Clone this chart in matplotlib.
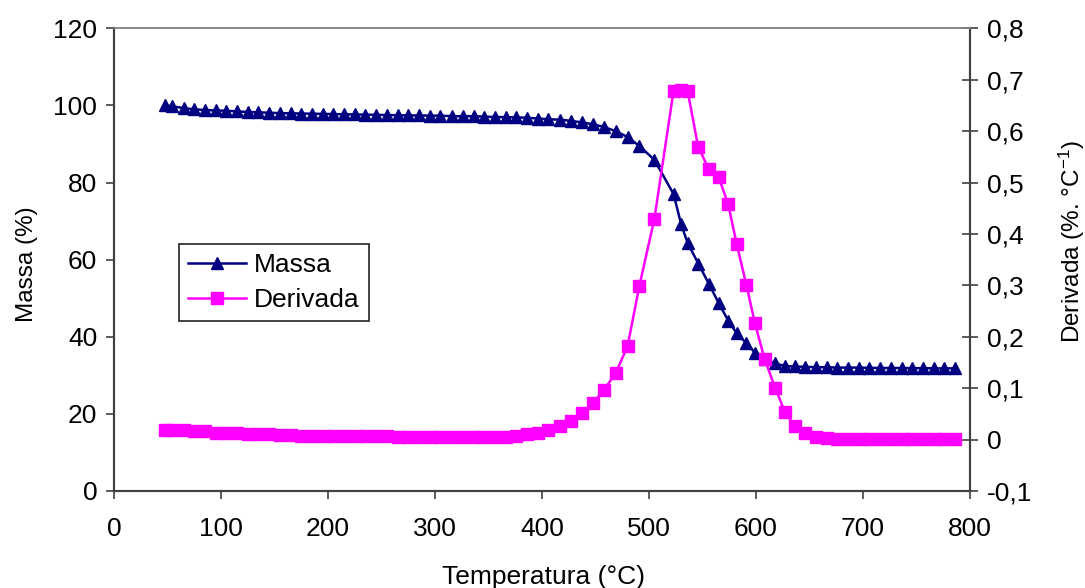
import matplotlib
matplotlib.use("Agg")
import matplotlib.pyplot as plt

plt.rcParams['font.family'] = ['Liberation Sans', 'DejaVu Sans']
plt.rcParams['mathtext.fontset'] = 'custom'
plt.rcParams['mathtext.rm'] = 'Liberation Sans'
plt.rcParams['mathtext.it'] = 'Liberation Sans'
plt.rcParams['mathtext.default'] = 'regular'

temperatura = [48, 54, 65, 75, 85, 95, 105, 115, 125, 135, 145, 155, 165, 175, 185,
               195, 205, 215, 225, 235, 245, 255, 265, 275, 285, 295, 305, 316, 326,
               336, 346, 356, 366, 376, 386, 396, 406, 417, 427, 437, 448, 458, 469,
               480, 491, 505, 523, 530, 536, 546, 556, 565, 574, 582, 591, 599, 608,
               618, 627, 636, 646, 656, 666, 676, 686, 696, 706, 716, 726, 736, 746,
               756, 766, 776, 786]

massa = [100.0, 99.8, 99.3, 99.0, 98.8, 98.7, 98.6, 98.45, 98.3, 98.2, 98.1, 98.0,
         97.95, 97.9, 97.85, 97.8, 97.75, 97.7, 97.65, 97.6, 97.55, 97.5, 97.45,
         97.4, 97.4, 97.35, 97.35, 97.2, 97.2, 97.2, 97.1, 97.0, 96.95, 96.9, 96.8,
         96.6, 96.4, 96.3, 96.0, 95.6, 95.1, 94.4, 93.3, 91.8, 89.5, 85.9, 77.0,
         69.2, 64.4, 59.0, 53.7, 48.8, 44.2, 40.9, 38.3, 35.9, 34.2, 33.1, 32.4,
         32.3, 32.2, 32.1, 32.1, 32.0, 32.0, 32.0, 31.95, 31.9, 31.9, 31.9, 31.85,
         31.85, 31.8, 31.8, 31.8]

derivada = [0.018, 0.018, 0.018, 0.017, 0.016, 0.013, 0.013, 0.012, 0.011, 0.011,
            0.010, 0.009, 0.008, 0.007, 0.0065, 0.0064, 0.0064, 0.0064, 0.0064,
            0.0064, 0.0064, 0.0062, 0.006, 0.006, 0.0058, 0.0055, 0.005, 0.0045,
            0.0045, 0.0045, 0.0045, 0.005, 0.006, 0.0075, 0.010, 0.013, 0.019,
            0.026, 0.037, 0.052, 0.072, 0.0965, 0.130, 0.182, 0.299, 0.429, 0.679,
            0.680, 0.679, 0.569, 0.526, 0.511, 0.458, 0.380, 0.301, 0.226, 0.157,
            0.100, 0.054, 0.026, 0.012, 0.005, 0.003, 0.002, 0.001, 0.001, 0.001,
            0.001, 0.001, 0.0008, 0.0008, 0.0006, 0.0005, 0.0005, 0.0005]

x_ticks = [0, 100, 200, 300, 400, 500, 600, 700, 800]
left_ticks = [0, 20, 40, 60, 80, 100, 120]
right_ticks = [-0.1, 0.0, 0.1, 0.2, 0.3, 0.4, 0.5, 0.6, 0.7, 0.8]
right_labels = ['-0,1', '0', '0,1', '0,2', '0,3', '0,4', '0,5', '0,6', '0,7', '0,8']

FS = 19
FSV = 17.5
W, H = 1085, 588
fig = plt.figure(figsize=(W / 100, H / 100), dpi=100)
L, R, B, T = 114, 970, 491, 28.3
ax = fig.add_axes([L / W, 1 - B / H, (R - L) / W, (B - T) / H])
ax2 = ax.twinx()

l1, = ax.plot(temperatura, massa, color='#000080', lw=1.8, marker='^',
              markersize=8.5, label='Massa')
l2, = ax2.plot(temperatura, derivada, color='#FF00FF', lw=1.8, marker='s',
               markersize=9, label='Derivada')

ax.set_xlim(0, 800)
ax.set_ylim(0, 120)
ax2.set_ylim(-0.1, 0.8)
ax.set_xticks(x_ticks)
ax.set_yticks(left_ticks)
ax2.set_yticks(right_ticks)
ax2.set_yticklabels(right_labels)

for a in (ax, ax2):
    for s in a.spines.values():
        s.set_color('#404040')
        s.set_linewidth(1.5)
    a.spines['top'].set_color('#888888')
    a.spines['top'].set_linewidth(1.2)

ax.tick_params(axis='x', direction='out', length=6, width=1.2, color='#404040',
               labelsize=FS, pad=13)
ax.tick_params(axis='y', direction='out', length=6, width=1.2, color='#404040',
               labelsize=FS, pad=6)
ax2.tick_params(axis='y', direction='inout', length=12, width=1.2, color='#404040',
                labelsize=FS, pad=6)

ax.set_xlabel('Temperatura (°C)', fontsize=FS)
ax.set_ylabel('Massa (%)', fontsize=FSV)
ax2.set_ylabel('Derivada (%. °C$^{-1}$)', fontsize=FSV)
ax.xaxis.set_label_coords(0.502, -0.16)
ax.yaxis.set_label_coords(-0.089, 0.49)
ax2.yaxis.set_label_coords(1.101, 0.54)

leg = fig.legend([l1, l2], ['Massa', 'Derivada'], loc='upper left',
                 bbox_to_anchor=(179 / W, 1 - 244 / H), fontsize=FS,
                 fancybox=False, framealpha=1, edgecolor='#222222',
                 handlelength=2.2, handletextpad=0.3, labelspacing=0.4,
                 borderpad=0.35, borderaxespad=0)
leg.get_frame().set_linewidth(1.2)

fig.savefig('out.png', dpi=100)
